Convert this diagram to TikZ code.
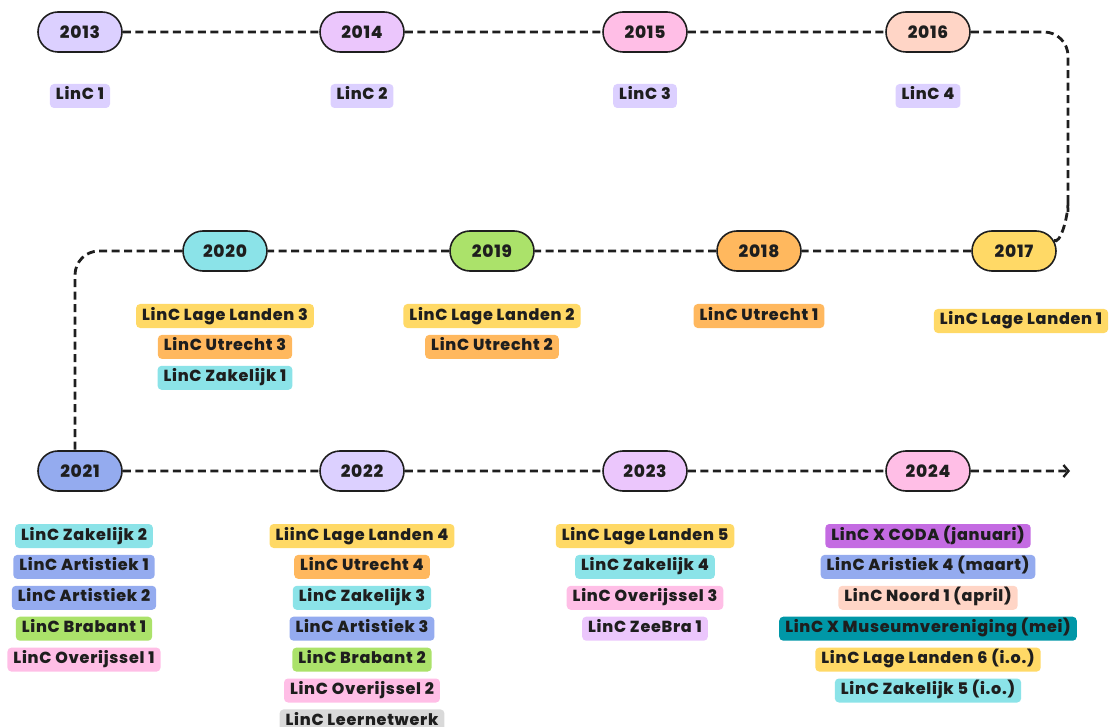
\documentclass[tikz,border=0pt]{standalone}
\usepackage{fontspec}
\setmainfont{Poppins}[LetterSpace=4.5, BoldFont={Poppins ExtraBold}]
\usetikzlibrary{shapes.misc,arrows.meta,positioning}
\definecolor{ink}{HTML}{1E1E1E}
\definecolor{lavender}{HTML}{DCD0FF}
\definecolor{orchid}{HTML}{EBC6FC}
\definecolor{candy}{HTML}{FFBEE6}
\definecolor{peach}{HTML}{FFD5C6}
\definecolor{sunny}{HTML}{FFD966}
\definecolor{tangerine}{HTML}{FFB85E}
\definecolor{lime}{HTML}{ABE26A}
\definecolor{aqua}{HTML}{8BE3E8}
\definecolor{periwinkle}{HTML}{94ABEF}
\definecolor{grayish}{HTML}{D9D9D9}
\definecolor{violet}{HTML}{C46BE2}
\definecolor{teal}{HTML}{0097A7}

\tikzset{
  yearpill/.style={rounded rectangle, draw=ink, line width=1.6pt, fill=#1,
    minimum width=84pt, minimum height=40pt, inner sep=0pt,
    font=\bfseries\fontsize{17}{20}\selectfont, text=ink},
  tag/.style={fill=#1, rounded corners=4pt, minimum height=24pt,
    inner xsep=6pt, inner ysep=0pt, text height=11.5pt, text depth=3.5pt,
    font=\bfseries\fontsize{16}{18}\selectfont, text=ink},
  conn/.style={draw=ink, line width=2.8pt, dash pattern=on 8pt off 4.5pt},
}

\begin{document}
\begin{tikzpicture}[x=1pt, y=-1pt]
  \useasboundingbox (0,0) rectangle (1111,727);
  % Years, first row
  \node[yearpill=lavender] (y2013) at (80,32)  {2013};
  \node[yearpill=orchid]   (y2014) at (362,32) {2014};
  \node[yearpill=candy]    (y2015) at (645,32) {2015};
  \node[yearpill=peach]    (y2016) at (928,32) {2016};
  % Years, second row (right to left)
  \node[yearpill=sunny]     (y2017) at (1014,251) {2017};
  \node[yearpill=tangerine] (y2018) at (759,251)  {2018};
  \node[yearpill=lime]      (y2019) at (492,251)  {2019};
  \node[yearpill=aqua]      (y2020) at (225,251)  {2020};
  % Years, third row
  \node[yearpill=periwinkle] (y2021) at (80,471)  {2021};
  \node[yearpill=lavender]   (y2022) at (362,471) {2022};
  \node[yearpill=orchid]     (y2023) at (645,471) {2023};
  \node[yearpill=candy]      (y2024) at (928,471) {2024};
  % Turning points of the line
  \coordinate (bendA) at (1068,32);
  \coordinate (bendB) at (1068,226);
  \coordinate (bendC) at (75,251);
  \coordinate (lineend) at (1070,471);
  % Line
  \draw[conn] (y2013) -- (y2014);
  \draw[conn] (y2014) -- (y2015);
  \draw[conn] (y2015) -- (y2016);
  \draw[conn, rounded corners=24pt] (y2016.east) -- (bendA) -- (bendB) to[out=90, in=-40] (y2017.15);
  \draw[conn] (y2017) -- (y2018);
  \draw[conn] (y2018) -- (y2019);
  \draw[conn] (y2019) -- (y2020);
  \draw[conn, rounded corners=24pt] (y2020.west) -- (bendC) -- (y2021.north -| bendC);
  \draw[conn] (y2021) -- (y2022);
  \draw[conn] (y2022) -- (y2023);
  \draw[conn] (y2023) -- (y2024);
  \draw[conn, -{Straight Barb[length=5pt, width=12pt, line width=2.4pt]}] (y2024) -- (lineend);
  % 2013 - 2016
  \node[tag=lavender, below=31pt of y2013] (t13a) {LinC 1};
  \node[tag=lavender, below=31pt of y2014] (t14a) {LinC 2};
  \node[tag=lavender, below=31pt of y2015] (t15a) {LinC 3};
  \node[tag=lavender, below=31pt of y2016] (t16a) {LinC 4};
  % 2017 - 2020
  \node[tag=sunny, below=37pt of y2017, xshift=7pt] (t17a) {LinC Lage Landen 1};
  \node[tag=tangerine, below=32pt of y2018] (t18a) {LinC Utrecht 1};
  \node[tag=sunny, below=32pt of y2019] (t19a) {LinC Lage Landen 2};
  \node[tag=tangerine, below=6.5pt of t19a] (t19b) {LinC Utrecht 2};
  \node[tag=sunny, below=32pt of y2020] (t20a) {LinC Lage Landen 3};
  \node[tag=tangerine, below=6.5pt of t20a] (t20b) {LinC Utrecht 3};
  \node[tag=aqua, below=6.5pt of t20b] (t20c) {LinC Zakelijk 1};
  % 2021
  \node[tag=aqua, below=32pt of y2021, xshift=4pt] (t21a) {LinC Zakelijk 2};
  \node[tag=periwinkle, below=6.5pt of t21a] (t21b) {LinC Artistiek 1};
  \node[tag=periwinkle, below=6.5pt of t21b] (t21c) {LinC Artistiek 2};
  \node[tag=lime, below=6.5pt of t21c] (t21d) {LinC Brabant 1};
  \node[tag=candy, below=6.5pt of t21d] (t21e) {LinC Overijssel 1};
  % 2022
  \node[tag=sunny, below=32pt of y2022] (t22a) {LiinC Lage Landen 4};
  \node[tag=tangerine, below=6.5pt of t22a] (t22b) {LinC Utrecht 4};
  \node[tag=aqua, below=6.5pt of t22b] (t22c) {LinC Zakelijk 3};
  \node[tag=periwinkle, below=6.5pt of t22c] (t22d) {LinC Artistiek 3};
  \node[tag=lime, below=6.5pt of t22d] (t22e) {LinC Brabant 2};
  \node[tag=candy, below=6.5pt of t22e] (t22f) {LinC Overijssel 2};
  \node[tag=grayish, below=6.5pt of t22f] (t22g) {LinC Leernetwerk};
  % 2023
  \node[tag=sunny, below=32pt of y2023] (t23a) {LinC Lage Landen 5};
  \node[tag=aqua, below=6.5pt of t23a] (t23b) {LinC Zakelijk 4};
  \node[tag=candy, below=6.5pt of t23b] (t23c) {LinC Overijssel 3};
  \node[tag=orchid, below=6.5pt of t23c] (t23d) {LinC ZeeBra 1};
  % 2024
  \node[tag=violet, below=32pt of y2024] (t24a) {LinC X CODA (januari)};
  \node[tag=periwinkle, below=6.5pt of t24a] (t24b) {LinC Aristiek 4 (maart)};
  \node[tag=peach, below=6.5pt of t24b] (t24c) {LinC Noord 1 (april)};
  \node[tag=teal, below=6.5pt of t24c] (t24d) {LinC X Museumvereniging (mei)};
  \node[tag=sunny, below=6.5pt of t24d] (t24e) {LinC Lage Landen 6 (i.o.)};
  \node[tag=aqua, below=6.5pt of t24e] (t24f) {LinC Zakelijk 5 (i.o.)};
\end{tikzpicture}
\end{document}
